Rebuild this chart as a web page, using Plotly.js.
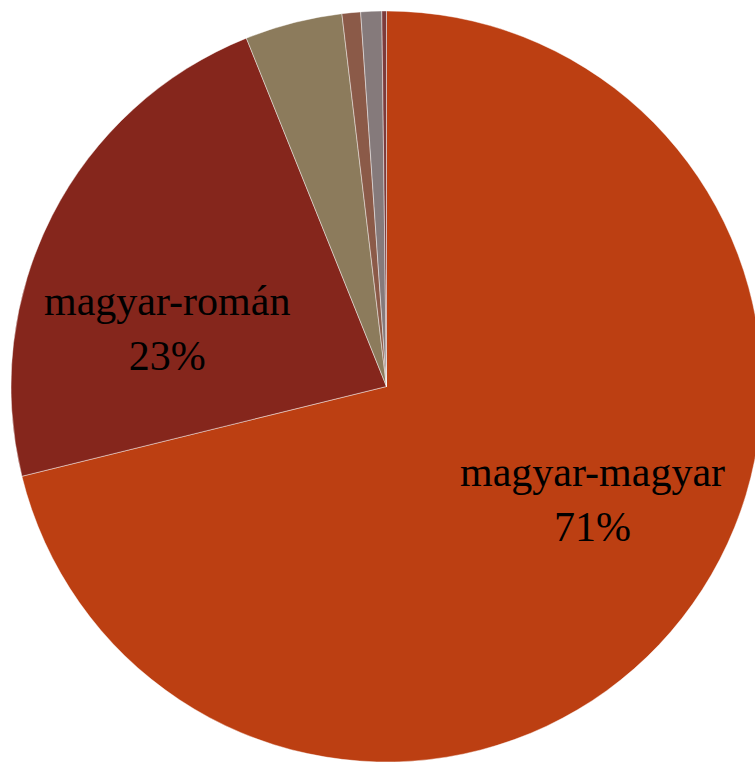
<!DOCTYPE html>
<html>
<head>
<meta charset="utf-8">
<script src="https://cdn.plot.ly/plotly-3.0.1.min.js"></script>
<style>
html,body{margin:0;padding:0;overflow:hidden;background:#fff;}
#chart{width:775px;height:763px;}
</style>
</head>
<body>
<div id="chart"></div>
<script>
var categories = ["magyar-magyar", "magyar-román", "magyar-német", "magyar-szlovák", "magyar-egyéb", "egyéb"];
var shares = [71.3, 22.8, 4.2, 0.8, 0.9, 0.2];
var sliceColors = ["#BC3F12", "#85261C", "#8C7B5C", "#8B5A48", "#857A7B", "#7D3B3B"];
var shownLabels = [true, true, false, false, false, false];
// label anchor points (paper fraction) for the shown labels
var labelX = [0.7639, 0.2155, null, null, null, null];
var labelY = [0.3447, 0.5701, null, null, null, null];

var total = shares.reduce(function (a, b) { return a + b; }, 0);

var trace = {
  type: "pie",
  labels: categories,
  values: shares,
  sort: false,
  direction: "clockwise",
  rotation: 0,
  marker: { colors: sliceColors, line: { color: "rgba(255,255,255,0.55)", width: 0.8 } },
  textinfo: "none",
  hoverinfo: "label+percent",
  domain: { x: [11 / 775, 762 / 775], y: [1 / 763, 752 / 763] }
};

var annotations = [];
categories.forEach(function (c, i) {
  if (!shownLabels[i]) return;
  annotations.push({
    xref: "paper", yref: "paper",
    x: labelX[i], y: labelY[i],
    xanchor: "center", yanchor: "middle",
    showarrow: false,
    borderpad: 0,
    text: c + "<br>" + Math.round(shares[i] / total * 100) + "%",
    font: { family: "Liberation Serif, serif", size: 42, color: "#000" }
  });
});

var layout = {
  width: 775,
  height: 763,
  margin: { l: 0, r: 0, t: 0, b: 0 },
  showlegend: false,
  paper_bgcolor: "#fff",
  plot_bgcolor: "#fff",
  annotations: annotations
};

Plotly.newPlot("chart", [trace], layout, { displayModeBar: false, staticPlot: true });
</script>
</body>
</html>
